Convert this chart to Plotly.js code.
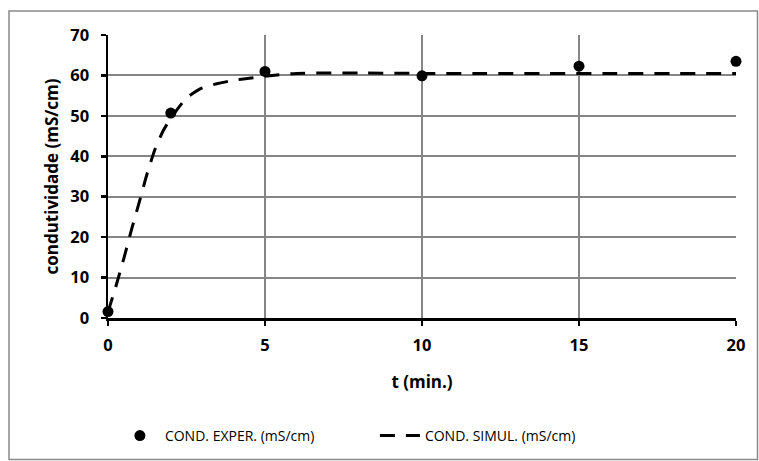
<!DOCTYPE html>
<html>
<head>
<meta charset="utf-8">
<script src="https://cdn.plot.ly/plotly-3.0.1.min.js"></script>
<style>
html,body{margin:0;padding:0;background:#fff;}
#chart{width:759px;height:461px;}
</style>
</head>
<body>
<div id="chart"></div>
<script>
// Experimental data
const expT = [0, 2, 5, 10, 15, 20];
const expCond = [1.6, 50.7, 61.0, 59.9, 62.3, 63.5];

// Simulated curve
const simT = [0, 0.25, 0.5, 0.75, 1, 1.25, 1.5, 1.75, 2, 2.5, 3, 3.5, 4, 4.5, 5, 6, 8, 10, 12, 14, 16, 18, 20];
const simCond = [1.5, 7.8, 14.6, 21.9, 28.8, 35.8, 41.8, 46.2, 49.4, 54.4, 56.9, 58.0, 58.8, 59.3, 59.8, 60.5, 60.6, 60.5, 60.5, 60.5, 60.5, 60.5, 60.5];

const xTicks = [0, 5, 10, 15, 20];
const yTicks = [0, 10, 20, 30, 40, 50, 60, 70];

const seriesNames = ['COND. EXPER. (mS/cm)', 'COND. SIMUL. (mS/cm)'];
const xTitle = 't (min.)';
const yTitle = 'condutividade (mS/cm)';

const FONT = 'Open Sans, Noto Sans, sans-serif';

const traces = [
  {
    x: expT, y: expCond, name: seriesNames[0],
    type: 'scatter', mode: 'markers',
    marker: {color: '#000', size: 11, symbol: 'circle'},
    cliponaxis: false
  },
  {
    x: simT, y: simCond, name: seriesNames[1],
    type: 'scatter', mode: 'lines',
    line: {color: '#000', width: 3, dash: '15px,11px', shape: 'spline', smoothing: 0.6},
    cliponaxis: false
  }
];

const layout = {
  width: 759, height: 461,
  margin: {l: 108, r: 23, t: 35, b: 143, pad: 0, autoexpand: false},
  paper_bgcolor: '#fff', plot_bgcolor: '#fff',
  showlegend: true,
  font: {family: FONT, color: '#000'},
  xaxis: {
    range: [0, 20], tickvals: xTicks, ticktext: xTicks.map(String),
    showgrid: true, gridcolor: '#868686', gridwidth: 2,
    showline: true, linecolor: '#000', linewidth: 2.5,
    ticks: 'outside', ticklen: 5, tickwidth: 2.5, tickcolor: '#000',
    ticklabelstandoff: 6, automargin: false,
    tickfont: {family: FONT, size: 16.5, color: '#000', weight: 'bold'},
    zeroline: false, fixedrange: true,
    title: {text: '<b>' + xTitle + '</b>', font: {family: FONT, size: 17, color: '#000'}, standoff: 21}
  },
  yaxis: {
    range: [0, 70], tickvals: yTicks, ticktext: yTicks.map(String),
    showgrid: true, gridcolor: '#868686', gridwidth: 2,
    showline: true, linecolor: '#000', linewidth: 2.5,
    ticks: 'outside', ticklen: 5, tickwidth: 2.5, tickcolor: '#000',
    ticklabelstandoff: 8, automargin: false,
    tickfont: {family: FONT, size: 16.5, color: '#000', weight: 'bold'},
    zeroline: false, fixedrange: true,
    title: {text: '<b>' + yTitle + '</b>', font: {family: FONT, size: 17, color: '#000'}, standoff: 8}
  },
  legend: {
    orientation: 'h', x: 0.011, xanchor: 'left',
    yref: 'container', y: (461 - 436) / 461, yanchor: 'middle',
    font: {family: FONT, size: 14, color: '#000'},
    bgcolor: 'rgba(0,0,0,0)', entrywidth: 205, entrywidthmode: 'pixels',
    itemwidth: 40
  },
  shapes: [{
    type: 'rect', xref: 'paper', yref: 'paper',
    x0: (9 - 108) / 628, x1: (757.5 - 108) / 628,
    y0: (318 - 459.5) / 283, y1: (318 - 11) / 283,
    line: {color: '#898989', width: 1.5}, fillcolor: 'rgba(0,0,0,0)', layer: 'below'
  }]
};

Plotly.newPlot('chart', traces, layout, {displayModeBar: false, staticPlot: true});
</script>
</body>
</html>
